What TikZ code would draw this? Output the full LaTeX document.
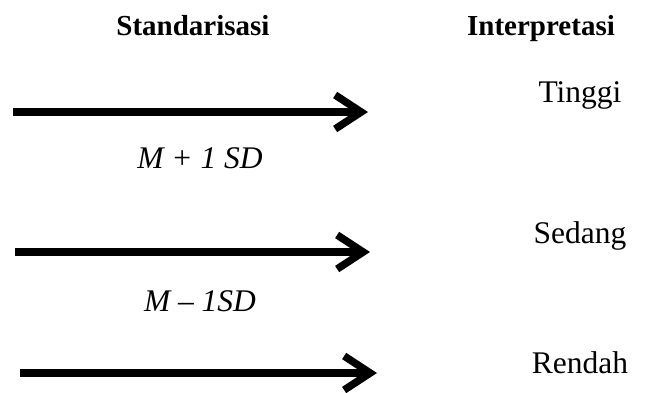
\documentclass[tikz,border=0pt]{standalone}
\usepackage{fontspec}
\setmainfont{Liberation Serif}
\usetikzlibrary{arrows.meta}
\tikzset{
  head/.style={anchor=base, font=\fontsize{29}{34}\selectfont\bfseries},
  interp/.style={anchor=base, font=\fontsize{31.5}{36}\selectfont},
  lbl/.style={anchor=base, font=\fontsize{31.5}{36}\selectfont\itshape},
  bigarrow/.style={line width=7.5pt, -{Straight Barb[length=26pt, width=34pt, line join=miter]}},
}
\begin{document}
\begin{tikzpicture}[x=1pt, y=-1pt]
\useasboundingbox (0,0) rectangle (666,392);
\node[head] (hs) at (193,35) {Standarisasi};
\node[head] (hi) at (541,35) {Interpretasi};
\node[interp] (t) at (580,102) {Tinggi};
\node[interp] (s) at (580,243) {Sedang};
\node[interp] (r) at (580,373) {Rendah};
\node[lbl] (l1) at (200,168) {M + 1 SD};
\node[lbl] (l2) at (200,311) {M -- 1SD};
\coordinate (a1s) at (13,112);
\coordinate (a1e) at (368,112);
\coordinate (a2s) at (15,252);
\coordinate (a2e) at (370,252);
\coordinate (a3s) at (20,373);
\coordinate (a3e) at (377,373);
\draw[bigarrow] (a1s) -- (a1e);
\draw[bigarrow] (a2s) -- (a2e);
\draw[bigarrow] (a3s) -- (a3e);
\end{tikzpicture}
\end{document}
